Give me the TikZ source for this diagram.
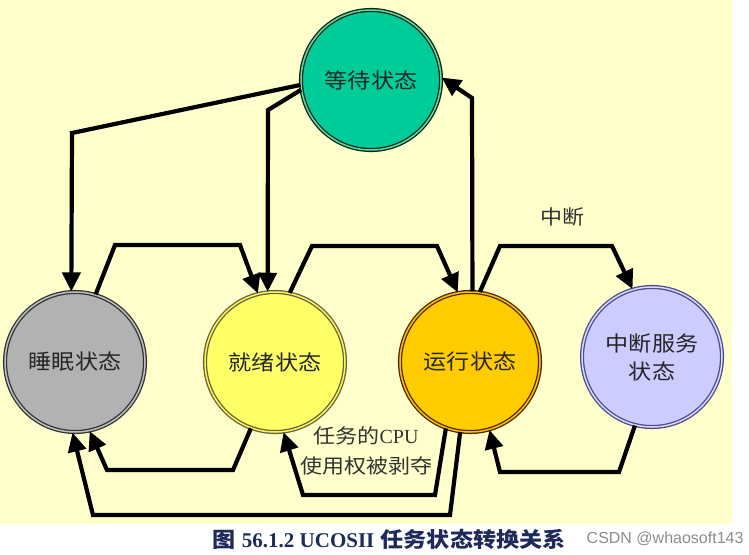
\documentclass[tikz,border=0pt]{standalone}
\usepackage{fontspec}
\usepackage{xcolor}
\usepackage{tikz}
\usetikzlibrary{arrows.meta, positioning}
\newfontfamily\cjk[FakeStretch=1.1]{Noto Sans CJK SC}
\newfontfamily\serifcn{Liberation Serif}
\newfontfamily\wmfont{Liberation Sans}
\definecolor{bgyellow}{HTML}{FFFFCC}
\definecolor{capblue}{HTML}{1E2A5A}

\begin{document}
\begin{tikzpicture}[x=1pt, y=-1pt,
    taskstate/.style={circle, minimum size=140pt, inner sep=0pt, line width=1.3pt,
        double distance=1.5pt, text=black!85, align=center,
        font=\cjk\fontsize{21}{28}\selectfont},
    flow/.style={line width=4.2pt, -{Triangle[length=19pt, width=18pt]}},
    lbl/.style={text=black!80, align=center, font=\cjk\fontsize{20}{30}\selectfont}]
    \useasboundingbox (0,0) rectangle (749,554);
    \fill[bgyellow] (0,0) rectangle (732,524);

    % 1. Các trạng thái
    \node[taskstate, draw=black!80, double=black!25, fill=black!30] (sleep) at (75,362) {睡眠状态};
    \node[taskstate, draw=black!70!yellow, double=yellow!70, fill={rgb,255:red,255;green,255;blue,102}] (ready) at (275,362) {就绪状态};
    \node[taskstate, draw=black!70!orange, double=orange!50!yellow, fill={rgb,255:red,255;green,204;blue,0}] (run) at (470,362) {运行状态};
    \node[taskstate, draw=black!65!blue!70, double=blue!15, fill={rgb,255:red,204;green,204;blue,255}] (isr) at (652,357) {中断服务\\状态};
    \node[taskstate, draw=black!70!teal, double=teal!50!green!60, fill={rgb,255:red,0;green,204;blue,153}] (wait) at (371,80) {等待状态};

    % 2. Các mũi tên chuyển trạng thái
    \draw[flow] (wait.184) -- (72,133) -- (sleep.93);
    \draw[flow] (wait.188) -- (268,110) -- (ready.96);
    \draw[flow] (run.88) -- (472,98) -- (wait.2);
    \draw[flow] (sleep.73) -- (115,245) -- (240,245) -- (ready.104);
    \draw[flow] (ready.78) -- (312,246) -- (437,246) -- (run.100);
    \draw[flow] (run.82) -- (500,246) -- (612,246) -- (isr.106);
    \draw[flow] (ready.250) -- (233,470) -- (107,470) -- (sleep.282);
    \draw[flow] (run.262) -- (450,515) -- (93,515) -- (sleep.268);
    \draw[flow] (run.250) -- (435,495) -- (303,495) -- (ready.277);
    \draw[flow] (isr.256) -- (619,472) -- (500,472) -- (run.286);

    % 3. Nhãn và chú thích
    \node[lbl] (intr) at (562,217) {中断};
    \node[lbl] (preempt) at (366,451) {任务的{\serifcn CPU}\\使用权被剥夺};
    \node[text=capblue, font=\fontsize{21}{24}\selectfont] (cap) at (389,539)
        {{\cjk\bfseries 图} {\serifcn\bfseries 56.1.2 UCOSII} {\cjk\bfseries 任务状态转换关系}};
    \node[text=black!45, font=\wmfont\fontsize{16}{18}\selectfont, anchor=east] (csdn) at (747,539) {CSDN @whaosoft143};
\end{tikzpicture}
\end{document}
